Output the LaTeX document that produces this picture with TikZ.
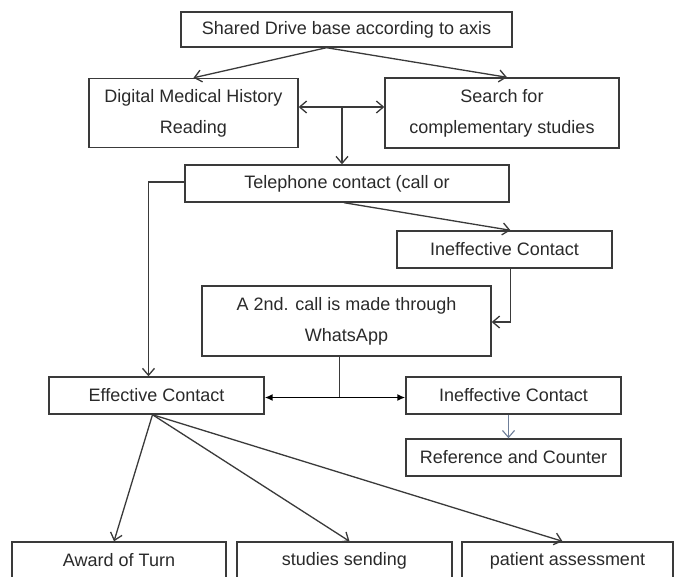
\documentclass[tikz,border=0pt]{standalone}
\usepackage{fontspec}
\setmainfont{Liberation Sans}
\usetikzlibrary{arrows.meta,calc}
\definecolor{ln}{HTML}{3A3A3A}
\definecolor{tx}{HTML}{2A2A2A}
\definecolor{bl}{HTML}{6F7F99}
\tikzset{
  box/.style={draw=ln, line width=1.4pt, rectangle, inner sep=0pt, text=tx,
    font=\fontsize{18}{31}\selectfont, align=center},
  arr/.style={draw=ln, line width=1.3pt, -{Straight Barb[length=7pt,width=12pt]}},
  darr/.style={draw=ln, line width=1.3pt, {Straight Barb[length=7pt,width=12pt]}-{Straight Barb[length=7pt,width=12pt]}},
  farr/.style={draw=black, line width=1.5pt, {Latex[length=8pt,width=7pt]}-{Latex[length=8pt,width=7pt]}},
  plain/.style={draw=ln, line width=1.3pt}
}
\begin{document}
\begin{tikzpicture}[x=1pt,y=-1pt]
\useasboundingbox[fill=white] (0,0) rectangle (675,576);

\node[box, minimum width=331pt, minimum height=35pt] (top) at (346.5,29.5) {Shared Drive base according to axis};
\node[box, minimum width=209pt, minimum height=69pt] (dmh) at (193.5,113) {Digital Medical History\\Reading};
\node[box, minimum width=234pt, minimum height=70pt] (search) at (502,113) {Search for\\complementary studies};
\node[box, minimum width=324pt, minimum height=37pt] (tel) at (347,183.5) {Telephone contact (call or};
\node[box, minimum width=215pt, minimum height=37pt] (inef1) at (504.5,249.5) {Ineffective Contact};
\node[box, minimum width=289pt, minimum height=70pt] (wa) at (346.5,321) {A 2nd. call is made through\\WhatsApp};
\node[box, minimum width=215pt, minimum height=37pt] (eff) at (156.5,395.5) {Effective Contact};
\node[box, minimum width=215pt, minimum height=37pt] (inef2) at (513.5,395.5) {Ineffective Contact};
\node[box, minimum width=215pt, minimum height=37pt] (ref) at (513.5,457.5) {Reference and Counter};
\node[box, minimum width=214pt, minimum height=37pt] (award) at (119,560.5) {Award of Turn};
\node[box, minimum width=215pt, minimum height=37pt] (studies) at (344.5,560.5) {studies sending};
\node[box, minimum width=211pt, minimum height=37pt] (patient) at (567.5,560.5) {patient assessment};

% top fan-out
\coordinate (ts) at ([xshift=-20pt]top.south);
\draw[arr] (ts) -- (dmh.north);
\draw[arr] (ts) -- ([xshift=5pt]search.north);

% double arrow between dmh and search, and down to telephone
\coordinate (mid) at (342,107);
\draw[darr] (dmh.east |- mid) -- (search.west |- mid);
\draw[arr] (mid) -- (tel.north -| mid);

% telephone to ineffective 1
\draw[arr] ([xshift=-3pt]tel.south) -- ([xshift=6pt]inef1.north);

% ineffective 1 to whatsapp
\draw[arr] ([xshift=6pt]inef1.south) |- ([yshift=-1pt]wa.east);

% telephone to effective
\draw[arr] ([yshift=1.5pt]tel.west) -| ([xshift=-8pt]eff.north);

% whatsapp junction
\coordinate (j) at ([xshift=-7pt]wa.south |- 0,397.5);
\draw[plain] ([xshift=-7pt]wa.south) -- (j);
\draw[farr] (eff.east |- j) -- (inef2.west |- j);

% ineffective 2 to reference
\draw[draw=bl, line width=1.1pt, -{Straight Barb[length=7pt,width=12pt]}] ([xshift=-5pt]inef2.south) -- ([xshift=-5pt]ref.north);

% effective fan-out
\coordinate (es) at ([xshift=-4pt]eff.south);
\draw[arr] (es) -- ([xshift=-5pt]award.north);
\draw[arr] (es) -- ([xshift=5pt]studies.north);
\draw[arr] (es) -- ([xshift=-5pt]patient.north);
\end{tikzpicture}
\end{document}
